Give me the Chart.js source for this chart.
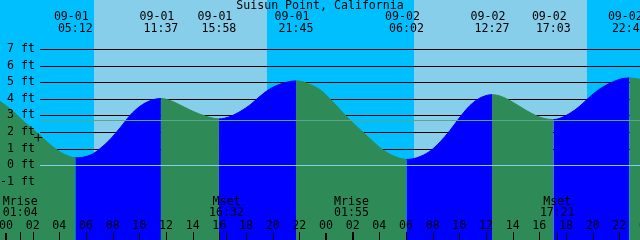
<!DOCTYPE html>
<html>
<head>
<meta charset="utf-8">
<script src="https://cdn.jsdelivr.net/npm/chart.js@4"></script>
<style>
  html, body { margin: 0; padding: 0; background: #00bfff; }
  canvas { display: block; }
</style>
</head>
<body>
<canvas id="tide" width="640" height="240"></canvas>
<script>
const title = 'Suisun Point, California';

// hours counted from 09-01 00:00, height in ft
const tideHours = [-0.45, 0.3, 1.05, 1.8, 2.55, 3.3, 4.05, 4.8, 5.2,
  6.3, 7.05, 7.8, 8.55, 9.3, 10.05, 10.8, 11.62,
  12.3, 13.05, 13.8, 14.55, 15.3, 15.97,
  16.8, 17.55, 18.3, 19.05, 19.8, 20.55, 21.3, 21.75,
  22.28, 23.03, 23.55, 24.3, 25.05, 25.8, 26.55, 27.3, 28.05, 28.8, 29.55, 30.03,
  30.8, 31.8, 32.55, 33.3, 34.05, 34.8, 35.55, 36.45,
  37.05, 37.8, 38.55, 39.3, 40.05, 41.05,
  41.55, 42.3, 43.05, 43.8, 44.55, 45.3, 46.05, 46.75, 47.55];
const tideFeet = [3.85, 3.4, 2.85, 2.3, 1.8, 1.25, 0.8, 0.52, 0.45,
  0.6, 1.0, 1.55, 2.25, 3.0, 3.55, 3.88, 4.02,
  3.9, 3.63, 3.33, 3.07, 2.88, 2.79,
  2.93, 3.23, 3.63, 4.15, 4.6, 4.88, 5.04, 5.08,
  5.02, 4.78, 4.55, 4.0, 3.35, 2.72, 2.15, 1.6, 1.05, 0.66, 0.42, 0.35,
  0.45, 0.85, 1.4, 2.1, 2.9, 3.6, 4.05, 4.25,
  4.17, 3.89, 3.53, 3.17, 2.89, 2.75,
  2.83, 3.13, 3.57, 4.13, 4.6, 4.94, 5.18, 5.26, 5.18];

const extremaHours = [5.2, 11.617, 15.967, 21.75, 30.033, 36.45, 41.05, 46.75];
const extremaDates = ['09-01', '09-01', '09-01', '09-01', '09-02', '09-02', '09-02', '09-02'];
const extremaTimes = ['05:12', '11:37', '15:58', '21:45', '06:02', '12:27', '17:03', '22:45'];

const sunriseHours = [6.62, 30.62];
const sunsetHours = [19.55, 43.55];

const moonHours = [1.067, 16.533, 25.917, 41.35];
const moonNames = ['Mrise', 'Mset', 'Mrise', 'Mset'];
const moonTimes = ['01:04', '16:32', '01:55', '17:21'];

const feetTicks = [7, 6, 5, 4, 3, 2, 1, 0, -1];
const hourTicks = [0, 2, 4, 6, 8, 10, 12, 14, 16, 18, 20, 22, 24, 26, 28, 30, 32, 34, 36, 38, 40, 42, 44, 46, 48];
const hourLabels = ['00', '02', '04', '06', '08', '10', '12', '14', '16', '18', '20', '22',
  '00', '02', '04', '06', '08', '10', '12', '14', '16', '18', '20', '22', '00'];

const meanLevel = 2.71;
const nowHour = 2.42;
const nowFeet = 1.67;

const FONT = '11.6px "DejaVu Sans Mono", monospace';
const RISE = '#0000ff';
const FALL = '#2e8b57';

const tideDecor = {
  id: 'tideDecor',
  beforeDatasetsDraw(chart) {
    const { ctx, width, height } = chart;
    const { x, y } = chart.scales;
    ctx.save();
    ctx.fillStyle = '#00bfff';
    ctx.fillRect(0, 0, width, height);
    ctx.fillStyle = '#87ceeb';
    sunriseHours.forEach((h, i) => {
      const x0 = Math.round(x.getPixelForValue(h));
      const x1 = Math.round(x.getPixelForValue(sunsetHours[i]));
      ctx.fillRect(x0, 0, x1 - x0, height);
    });
    // grid lines sit behind the water
    ctx.strokeStyle = '#000';
    ctx.lineWidth = 1;
    feetTicks.filter(v => v > 0).forEach(v => {
      const py = Math.round(y.getPixelForValue(v)) + 0.5;
      ctx.beginPath();
      ctx.moveTo(40, py);
      ctx.lineTo(width, py);
      ctx.stroke();
    });
    ctx.restore();
  },
  afterDatasetsDraw(chart) {
    const { ctx, width } = chart;
    const { x, y } = chart.scales;
    ctx.save();

    const hline = (v, color) => {
      const py = Math.round(y.getPixelForValue(v)) + 0.5;
      ctx.strokeStyle = color;
      ctx.beginPath();
      ctx.moveTo(40, py);
      ctx.lineTo(width, py);
      ctx.stroke();
    };
    ctx.lineWidth = 1;
    hline(0, '#87ceeb');
    hline(meanLevel, '#5aa88a');

    ctx.font = FONT;
    ctx.fillStyle = '#000';
    ctx.textBaseline = 'middle';

    // y labels
    ctx.textAlign = 'right';
    feetTicks.forEach(v => {
      ctx.fillText(v + ' ft', 35, Math.round(y.getPixelForValue(v)));
    });

    // title and high/low times
    ctx.textAlign = 'center';
    ctx.fillText(title, width / 2, 6);
    extremaHours.forEach((h, i) => {
      const px = x.getPixelForValue(h);
      ctx.fillText(extremaDates[i], px - 4, 17);
      ctx.fillText(extremaTimes[i], px, 29);
    });

    // moon rise / set
    moonHours.forEach((h, i) => {
      const px = x.getPixelForValue(h);
      ctx.fillText(moonNames[i], px, 202);
      ctx.fillText(moonTimes[i], px, 213);
      ctx.fillRect(Math.round(px), 232, 1, 8);
    });

    // hour axis
    hourTicks.forEach((h, i) => {
      const px = x.getPixelForValue(h);
      ctx.fillText(hourLabels[i], px, 226);
      if (h % 24 === 0) ctx.fillRect(Math.round(px) - 1, 233, 2, 7);
      else ctx.fillRect(Math.round(px), 232, 1, 8);
    });

    ctx.restore();
  }
};

new Chart(document.getElementById('tide').getContext('2d'), {
  type: 'line',
  data: {
    datasets: [
      {
        type: 'scatter',
        data: [{ x: nowHour, y: nowFeet }],
        pointStyle: 'cross',
        radius: 4,
        borderColor: '#000',
        borderWidth: 1,
        clip: false,
      },
      {
        data: tideHours.map((h, i) => ({ x: h, y: tideFeet[i] })),
        fill: 'start',
        clip: false,
        cubicInterpolationMode: 'monotone',
        pointRadius: 0,
        borderWidth: 1,
        borderColor: FALL,
        backgroundColor: FALL,
        segment: {
          borderColor: c => (c.p1.parsed.y >= c.p0.parsed.y ? RISE : FALL),
          backgroundColor: c => (c.p1.parsed.y >= c.p0.parsed.y ? RISE : FALL),
        },
      },
    ],
  },
  options: {
    responsive: false,
    animation: false,
    layout: { padding: 0, autoPadding: false },
    scales: {
      x: { type: 'linear', min: -0.45, max: 47.55, display: false },
      y: { min: -4.5, max: 9.95, display: false },
    },
    plugins: {
      legend: { display: false },
      tooltip: { enabled: false },
    },
  },
  plugins: [tideDecor],
});
</script>
</body>
</html>
